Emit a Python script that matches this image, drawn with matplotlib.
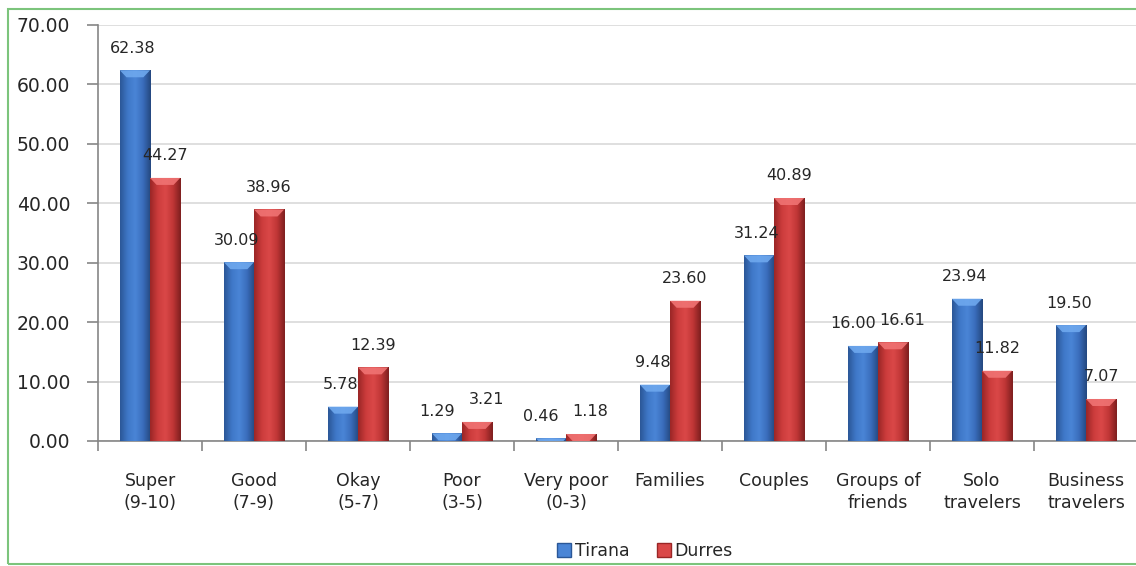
"""
Guest review scores and traveller types, Tirana vs Durres (clustered bars).
"""

import numpy as np
import matplotlib
matplotlib.use("Agg")
import matplotlib.pyplot as plt
from matplotlib.patches import Polygon, Rectangle
from matplotlib.colors import LinearSegmentedColormap

# ── Data ─────────────────────────────────────────────────────────────────────
categories = [
    "Super\n(9-10)", "Good\n(7-9)", "Okay\n(5-7)", "Poor\n(3-5)",
    "Very poor\n(0-3)", "Families", "Couples", "Groups of\nfriends",
    "Solo\ntravelers", "Business\ntravelers",
]
tirana = [62.38, 30.09, 5.78, 1.29, 0.46, 9.48, 31.24, 16.00, 23.94, 19.50]
durres = [44.27, 38.96, 12.39, 3.21, 1.18, 23.60, 40.89, 16.61, 11.82, 7.07]
yticks = [0, 10, 20, 30, 40, 50, 60, 70]

# ── Style ────────────────────────────────────────────────────────────────────
TEXT = "#262626"
GRID = "#D9D9D9"
AXIS = "#868686"
BORDER = "#7CC47C"

BLUE_SHADES = ["#2B5797", "#3F78C8", "#4A85D6", "#3A6DBC", "#24487F"]
RED_SHADES = ["#9A2626", "#CC3C3C", "#DA4848", "#C03636", "#7E1F1F"]
BLUE_BEVEL = "#6EA8EE"
RED_BEVEL = "#F07373"

plt.rcParams.update({
    "font.family": "DejaVu Sans",
    "text.color": TEXT,
    "axes.labelcolor": TEXT,
    "xtick.color": AXIS,
    "ytick.color": AXIS,
})

W, H, DPI = 1136, 566, 100
fig = plt.figure(figsize=(W / DPI, H / DPI), dpi=DPI)
ax = fig.add_axes([98 / W, 1 - 441 / H, 1040 / W, 416 / H])

x = np.arange(len(categories))
bw = 0.29
ymax = 70
px_per_unit = 416 / ymax


def shaded_bars(xpos, values, shades, bevel):
    bars = ax.bar(xpos, values, width=bw, color=shades[1], lw=0, zorder=2)
    cmap = LinearSegmentedColormap.from_list("shade", shades)
    grad = np.linspace(0, 1, 64).reshape(1, -1)
    for b in bars:
        x0, w, h = b.get_x(), b.get_width(), b.get_height()
        im = ax.imshow(grad, cmap=cmap, aspect="auto", zorder=3,
                       extent=(x0, x0 + w, 0, h), interpolation="bicubic")
        im.set_clip_path(b)
        # light bevel across the top of each bar
        bh = min(7 / px_per_unit, h)
        inset = w * 0.22 * (bh / (7 / px_per_unit))
        ax.add_patch(Polygon(
            [(x0, h), (x0 + w, h), (x0 + w - inset, h - bh), (x0 + inset, h - bh)],
            closed=True, facecolor=bevel, edgecolor="none", zorder=4, alpha=0.9,
        ))
    return bars


shaded_bars(x - bw / 2, tirana, BLUE_SHADES, BLUE_BEVEL)
shaded_bars(x + bw / 2, durres, RED_SHADES, RED_BEVEL)

# value labels, nudged apart where the two bars are of similar height
for i, (t, d) in enumerate(zip(tirana, durres)):
    close = abs(t - d) < 3
    dx_t = -10 if close else -2
    dx_d = 9 if close else 0
    ax.annotate(f"{t:.2f}", (x[i] - bw / 2, t), xytext=(dx_t, 22),
                textcoords="offset pixels", ha="center", va="center",
                fontsize=11.5, color=TEXT, zorder=5)
    ax.annotate(f"{d:.2f}", (x[i] + bw / 2, d), xytext=(dx_d, 22),
                textcoords="offset pixels", ha="center", va="center",
                fontsize=11.5, color=TEXT, zorder=5)

# ── Axes ─────────────────────────────────────────────────────────────────────
ax.set_xlim(-0.5, len(categories) - 0.5)
ax.set_ylim(0, ymax)
ax.set_yticks(yticks)
ax.set_yticklabels([f"{v:.2f}" for v in yticks], fontsize=13.5, color=TEXT)
ax.yaxis.grid(True, color=GRID, lw=1.2, zorder=0)
ax.set_axisbelow(True)

ax.set_xticks(x)
ax.set_xticklabels(categories, fontsize=12.5, color=TEXT, linespacing=1.35)
ax.set_xticks(np.arange(len(categories) + 1) - 0.5, minor=True)
ax.tick_params(axis="x", which="major", length=0, pad=22)
ax.tick_params(axis="x", which="minor", length=7, width=1.2, direction="out")
ax.tick_params(axis="y", length=8, width=1.2, direction="out", pad=12)

for side in ("top", "right"):
    ax.spines[side].set_visible(False)
for side in ("left", "bottom"):
    ax.spines[side].set_color(AXIS)
    ax.spines[side].set_linewidth(1.2)

# ── Legend ───────────────────────────────────────────────────────────────────
handles = [
    Rectangle((0, 0), 1, 1, facecolor=BLUE_SHADES[2], edgecolor=BLUE_SHADES[0]),
    Rectangle((0, 0), 1, 1, facecolor=RED_SHADES[2], edgecolor=RED_SHADES[0]),
]
fig.legend(handles, ["Tirana", "Durres"], loc="center",
           bbox_to_anchor=(645 / W, 1 - 551 / H), ncol=2, frameon=False,
           fontsize=12.5, handlelength=0.8, handleheight=0.8,
           handletextpad=0.2, columnspacing=1.6)

# chart-area border
fig.patches.append(Rectangle((8 / W, 2 / H), 1.2, 1 - 11 / H,
                             transform=fig.transFigure, fill=False,
                             edgecolor=BORDER, lw=1.5))

fig.savefig("out.png", dpi=DPI)
